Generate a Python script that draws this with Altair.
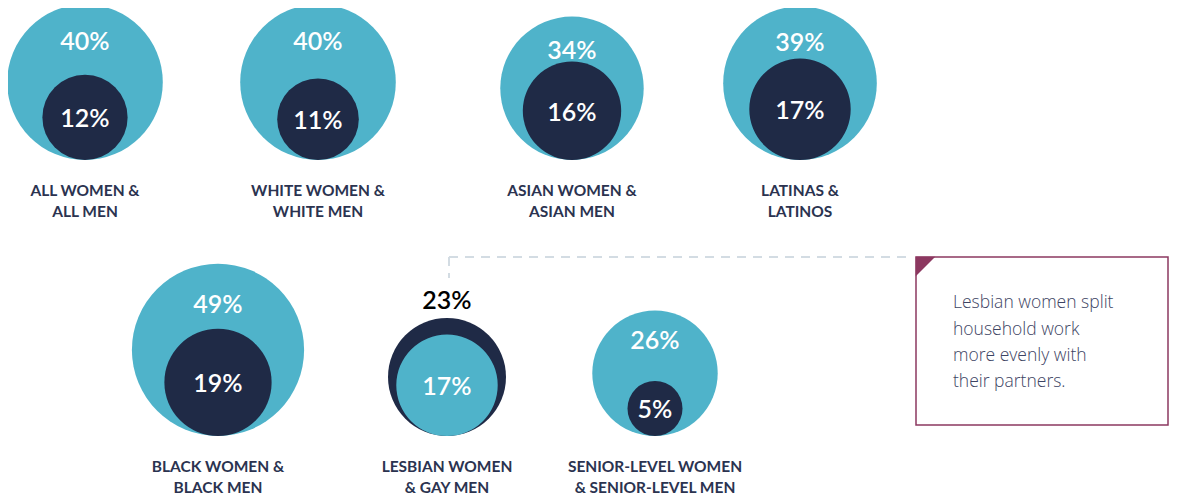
import math
import altair as alt
import pandas as pd

# ---- data ----
label_line1 = ["ALL WOMEN &", "WHITE WOMEN &", "ASIAN WOMEN &", "LATINAS &",
               "BLACK WOMEN &", "LESBIAN WOMEN", "SENIOR-LEVEL WOMEN"]
label_line2 = ["ALL MEN", "WHITE MEN", "ASIAN MEN", "LATINOS",
               "BLACK MEN", "& GAY MEN", "& SENIOR-LEVEL MEN"]
women = [40, 40, 34, 39, 49, 17, 26]
men = [12, 11, 16, 17, 19, 23, 5]
note_lines = ["Lesbian women split", "household work", "more evenly with", "their partners."]

# ---- layout (pixel positions of each group, not data) ----
center_x = [85, 318, 572, 800, 218, 447, 655]
base_y = [160, 160, 160, 160, 436, 436, 436]
K = 12.3  # radius per sqrt(percent)

LIGHT = "#4fb3ca"
NAVY = "#1f2a46"
LABEL = "#2b3350"
MAROON = "#8c3860"
FONT = "Lato"

circ_rows, pct_rows, lab_rows = [], [], []
for i in range(len(women)):
    cx, base = center_x[i], base_y[i]
    vals = [("W", women[i]), ("M", men[i])]
    big = max(vals, key=lambda t: t[1])
    small = min(vals, key=lambda t: t[1])
    for g, v in vals:
        r = K * math.sqrt(v)
        circ_rows.append({"x": cx, "y": base - r, "value": v, "gender": g})
    R = K * math.sqrt(big[1])
    r = K * math.sqrt(small[1])
    top = base - 2 * R
    if big[0] == "M":
        pct_rows.append({"x": cx, "y": top - 17, "text": f"{big[1]}%", "c": "#000000"})
    else:
        pct_rows.append({"x": cx, "y": top + 0.48 * R, "text": f"{big[1]}%", "c": "#ffffff"})
    pct_rows.append({"x": cx, "y": base - r + 2, "text": f"{small[1]}%", "c": "#ffffff"})
    lab_rows.append({"x": cx, "y": base + 31, "text": label_line1[i]})
    lab_rows.append({"x": cx, "y": base + 52, "text": label_line2[i]})

circ = pd.DataFrame(circ_rows)
pct = pd.DataFrame(pct_rows)
labs = pd.DataFrame(lab_rows)

xs = alt.Scale(domain=[8, 1169], nice=False, zero=False)
ys = alt.Scale(domain=[8, 498], nice=False, zero=False, reverse=True)
X = lambda f="x": alt.X(f"{f}:Q", scale=xs, axis=None)
Y = lambda f="y": alt.Y(f"{f}:Q", scale=ys, axis=None)

# Vega symbol size = area of bounding square = (2r)^2
circles = alt.Chart(circ).mark_circle(opacity=1, stroke=None).encode(
    x=X(), y=Y(),
    size=alt.Size("value:Q", scale=alt.Scale(domain=[0, 100], range=[0, 4 * K * K * 100]), legend=None),
    color=alt.Color("gender:N", scale=alt.Scale(domain=["W", "M"], range=[LIGHT, NAVY]), legend=None),
    order=alt.Order("value:Q", sort="descending"),
)

pcts = alt.Chart(pct).mark_text(font=FONT, fontSize=25, fontWeight=600, baseline="middle", align="center").encode(
    x=X(), y=Y(), text="text:N", color=alt.Color("c:N", scale=None)
)

labels = alt.Chart(labs).mark_text(font=FONT, fontSize=15.5, fontWeight="bold", baseline="middle",
                                   align="center", color=LABEL).encode(
    x=X(), y=Y(), text="text:N"
)

# dashed connector
seg = pd.DataFrame([
    {"x": 449, "x2": 908, "y": 257, "y2": 257},
    {"x": 449, "x2": 449, "y": 257, "y2": 278},
])
dashes = alt.Chart(seg).mark_rule(color="#d3dce3", strokeWidth=2, strokeDash=[9, 7]).encode(
    x=X(), x2="x2:Q", y=Y(), y2="y2:Q"
)

box_df = pd.DataFrame([{"x": 916, "x2": 1168, "y": 257, "y2": 425}])
box = alt.Chart(box_df).mark_rect(fill="white", stroke=MAROON, strokeWidth=1.5).encode(
    x=X(), x2="x2:Q", y=Y(), y2="y2:Q"
)
tri_df = pd.DataFrame([{"x": 916 + 9.5, "y": 257 + 9.5}])
tri = alt.Chart(tri_df).mark_point(shape="M-1,-1L1,-1L-1,1Z", filled=True, fill=MAROON,
                                   opacity=1, size=380, strokeWidth=0).encode(x=X(), y=Y())

note_df = pd.DataFrame({"text": note_lines, "x": [953] * 4, "y": [303, 330, 356, 382]})
note = alt.Chart(note_df).mark_text(font="Open Sans", fontSize=17.5, fontWeight=300, align="left",
                                    baseline="middle", color="#3d4463").encode(
    x=X(), y=Y(), text="text:N"
)

chart = alt.layer(dashes, box, tri, note, circles, pcts, labels).properties(
    width=1161, height=490, autosize=alt.AutoSizeParams(type="none"), padding=0,
).configure_view(stroke=None)

chart.save("out.html", embed_options={"renderer": "svg", "actions": False})
